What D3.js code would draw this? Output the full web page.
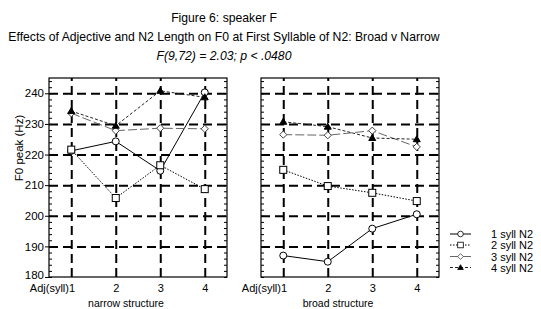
<!DOCTYPE html>
<html>
<head>
<meta charset="utf-8">
<script src="https://cdn.jsdelivr.net/npm/d3@7"></script>
<style>
  body { margin: 0; background: #fff; }
  svg { font-family: "Liberation Sans", Arial, sans-serif; }
</style>
</head>
<body>
<svg id="chart" width="541" height="309"></svg>
<script>
// data
const syllables = [1, 2, 3, 4];
const xTickLabels = ["Adj(syll)1", "2", "3", "4"];
const yTicks = [180, 190, 200, 210, 220, 230, 240];
const panelTitles = ["narrow structure", "broad structure"];
const seriesNames = ["1 syll N2", "2 syll N2", "3 syll N2", "4 syll N2"];

const narrow1 = [221.2, 224.3, 214.7, 240.3];
const narrow2 = [221.6, 205.8, 216.5, 208.7];
const narrow3 = [233.5, 227.8, 228.6, 228.4];
const narrow4 = [234.2, 229.4, 240.8, 238.7];

const broad1 = [187.0, 185.0, 195.8, 200.5];
const broad2 = [215.0, 209.7, 207.5, 204.8];
const broad3 = [226.5, 226.3, 227.8, 222.5];
const broad4 = [230.7, 229.1, 225.4, 225.0];

const panels = [
  { title: panelTitles[0], left: 49, series: [narrow1, narrow2, narrow3, narrow4] },
  { title: panelTitles[1], left: 261, series: [broad1, broad2, broad3, broad4] }
];

const styles = [
  { dash: null, stroke: "#000", marker: "circle" },
  { dash: "1.5,1.5", stroke: "#000", marker: "square" },
  { dash: "9,3", stroke: "#666", marker: "diamond" },
  { dash: "3,2", stroke: "#222", marker: "triangle" }
];

const svg = d3.select("#chart");
const panelW = 178, plotTop = 78, plotBottom = 277;
const fontFam = "Liberation Sans, Arial, sans-serif";

const y = d3.scaleLinear().domain([180, 245]).range([plotBottom, plotTop]);

// titles
svg.append("text").attr("x", 224).attr("y", 22).attr("text-anchor", "middle")
  .attr("font-size", 12.2).text("Figure 6: speaker F");
svg.append("text").attr("x", 224).attr("y", 41).attr("text-anchor", "middle")
  .attr("font-size", 12.2).text("Effects of Adjective and N2 Length on F0 at First Syllable of N2: Broad v Narrow");
svg.append("text").attr("x", 224).attr("y", 59.5).attr("text-anchor", "middle")
  .attr("font-size", 12.2).attr("font-style", "italic").text("F(9,72) = 2.03; p < .0480");

svg.append("text")
  .attr("transform", "translate(22.5,148) rotate(-90)")
  .attr("text-anchor", "middle").attr("font-size", 11.5)
  .text("F0 peak (Hz)");

function marker(sel, kind) {
  if (kind === "circle") {
    sel.append("circle").attr("r", 3.5).attr("fill", "#fff").attr("stroke", "#000");
  } else if (kind === "square") {
    sel.append("rect").attr("x", -3.5).attr("y", -3.5).attr("width", 7).attr("height", 7)
      .attr("fill", "#fff").attr("stroke", "#000");
  } else if (kind === "diamond") {
    sel.append("path").attr("d", "M0,-3.6L3.6,0L0,3.6L-3.6,0Z").attr("fill", "#fff").attr("stroke", "#444");
  } else {
    sel.append("path").attr("d", "M0,-3.5L3.5,2.5L-3.5,2.5Z").attr("fill", "#000").attr("stroke", "#000");
  }
}

panels.forEach((p, pi) => {
  const x = d3.scaleLinear().domain([0.5, 4.5]).range([p.left, p.left + panelW]);
  const g = svg.append("g");

  // dashed grid
  g.append("g").attr("transform", `translate(${p.left},0)`)
    .call(d3.axisLeft(y).tickValues(yTicks.slice(1)).tickSize(-panelW).tickFormat(""))
    .call(a => a.select(".domain").remove())
    .selectAll("line").attr("stroke", "#000").attr("stroke-width", 2).attr("stroke-dasharray", "9,5");
  g.append("g").attr("transform", `translate(0,${plotBottom})`)
    .call(d3.axisBottom(x).tickValues(syllables).tickSize(-(plotBottom - plotTop)).tickFormat(""))
    .call(a => a.select(".domain").remove())
    .selectAll("line").attr("stroke", "#000").attr("stroke-width", 2).attr("stroke-dasharray", "9,5");

  // minor ticks on both borders
  const minor = d3.range(180, 245, 2);
  g.append("g").attr("transform", `translate(${p.left},0)`)
    .call(d3.axisRight(y).tickValues(minor).tickSize(3).tickFormat(""))
    .call(a => a.select(".domain").remove());
  g.append("g").attr("transform", `translate(${p.left + panelW},0)`)
    .call(d3.axisLeft(y).tickValues(minor).tickSize(3).tickFormat(""))
    .call(a => a.select(".domain").remove());

  // y labels on first panel only
  if (pi === 0) {
    g.append("g").attr("transform", `translate(${p.left},0)`)
      .call(d3.axisLeft(y).tickValues(yTicks).tickSize(4).tickPadding(1))
      .call(a => a.select(".domain").remove())
      .call(a => a.selectAll("text").attr("font-size", 11.5).attr("fill", "#000")
        .attr("font-family", fontFam)
        .attr("dy", d => d === 180 ? "0.15em" : "0.32em"));
  }

  // x labels
  g.append("g").attr("transform", `translate(0,${plotBottom})`)
    .call(d3.axisBottom(x).tickValues(syllables).tickSize(0).tickPadding(7)
      .tickFormat((d, i) => xTickLabels[i]))
    .call(a => a.select(".domain").remove())
    .call(a => a.selectAll("text").attr("font-size", 11).attr("fill", "#000")
      .attr("font-family", fontFam)
      .attr("text-anchor", (d, i) => i === 0 ? "end" : "middle")
      .attr("dx", (d, i) => i === 0 ? "0.3em" : 0));

  g.append("text").attr("x", p.left + panelW / 2 - 12).attr("y", plotBottom + 29.5)
    .attr("text-anchor", "middle").attr("font-size", 10.5).text(p.title);

  // frame
  g.append("rect").attr("x", p.left).attr("y", plotTop).attr("width", panelW).attr("height", plotBottom - plotTop)
    .attr("fill", "none").attr("stroke", "#000").attr("stroke-width", 1.2);

  // series lines
  const line = d3.line().x((d, i) => x(syllables[i])).y(d => y(d));
  p.series.forEach((vals, si) => {
    const st = styles[si];
    g.append("path").attr("d", line(vals)).attr("fill", "none")
      .attr("stroke", st.stroke).attr("stroke-width", 1)
      .attr("stroke-dasharray", st.dash);
  });
  p.series.forEach((vals, si) => {
    vals.forEach((v, i) => {
      const m = g.append("g").attr("transform", `translate(${x(syllables[i])},${y(v)})`);
      marker(m, styles[si].marker);
    });
  });
});

// legend
const legendY = [234, 245, 256.5, 267.5];
seriesNames.forEach((name, i) => {
  const st = styles[i];
  const lg = svg.append("g").attr("transform", `translate(450,${legendY[i]})`);
  lg.append("line").attr("x1", 0).attr("x2", 21).attr("stroke", st.stroke)
    .attr("stroke-dasharray", st.dash);
  const m = lg.append("g").attr("transform", "translate(10.5,0) scale(0.8)");
  marker(m, st.marker);
  lg.append("text").attr("x", 41).attr("y", 4).attr("font-size", 11).text(name);
});
</script>
</body>
</html>
